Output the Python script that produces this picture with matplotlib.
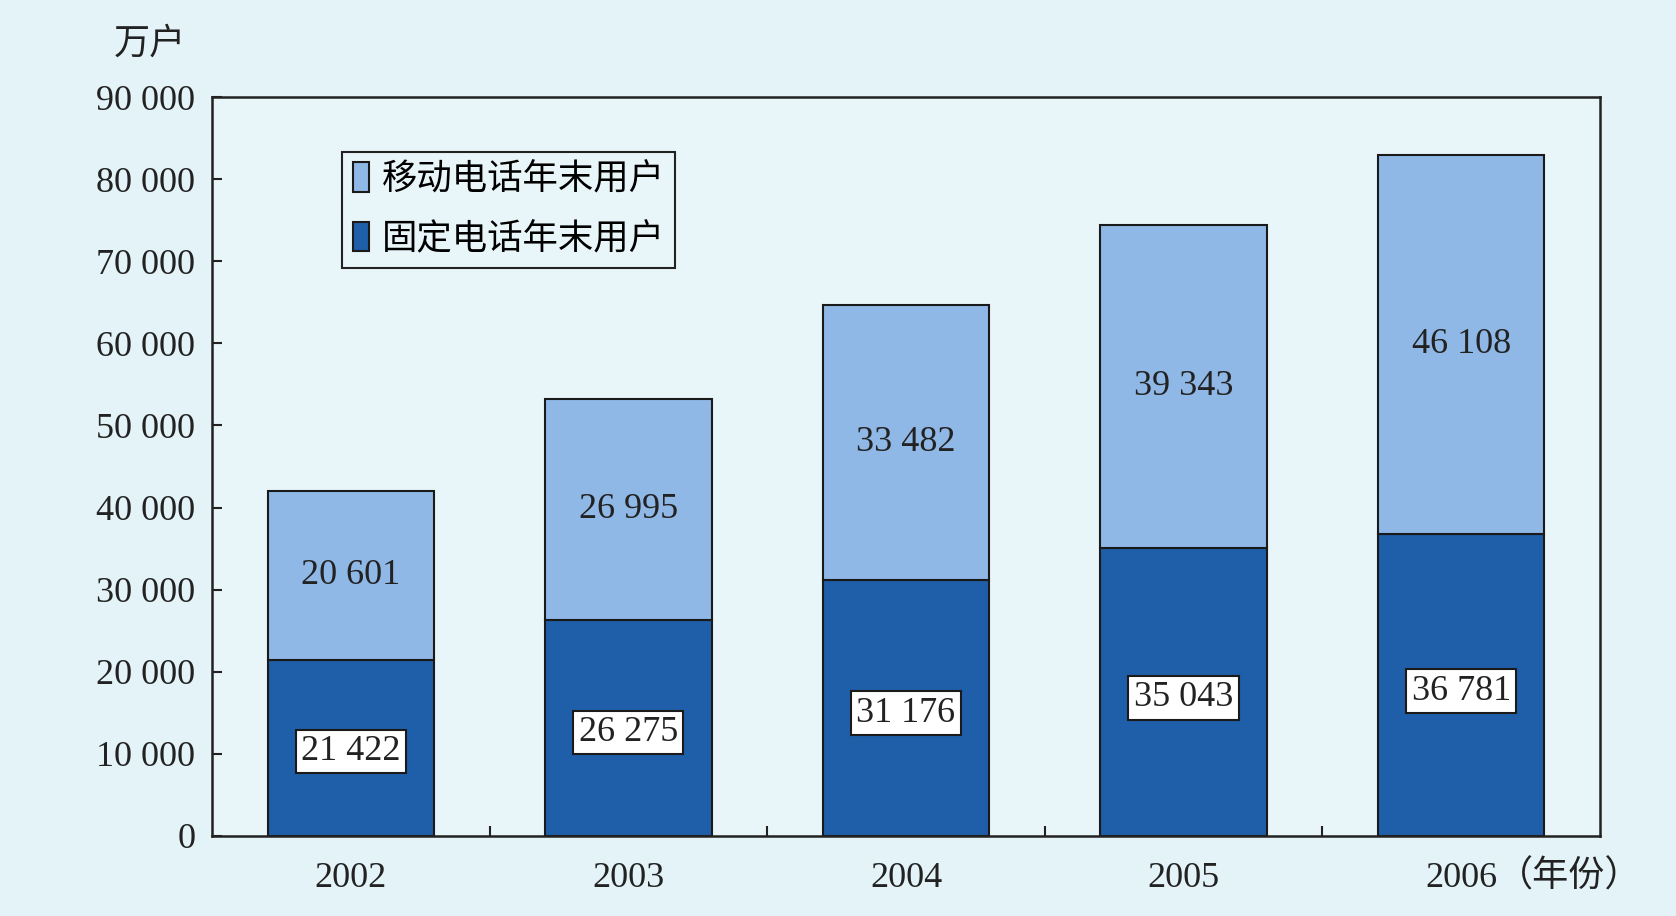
import numpy as np
import matplotlib.pyplot as plt
import matplotlib.transforms as mtransforms

plt.rcParams['font.family'] = ['Liberation Serif', 'Noto Sans CJK SC', 'DejaVu Sans']

# ---------------------------- datos ----------------------------
years = ['2002', '2003', '2004', '2005', '2006']
fixed_users = [21422, 26275, 31176, 35043, 36781]    # 固定电话年末用户
mobile_users = [20601, 26995, 33482, 39343, 46108]   # 移动电话年末用户
yticks = [0, 10000, 20000, 30000, 40000, 50000, 60000, 70000, 80000, 90000]


def fmt(v):
    # separador de miles con espacio, como en el original
    return f'{v:,}'.replace(',', ' ')


bg = '#e3f3f8'
inner = '#e8f5f9'
dark = '#1f5ea8'
light = '#8fb8e6'
ink = '#222222'
fs = 26

fig = plt.figure(figsize=(16.76, 9.16), dpi=100, facecolor=bg)
ax = fig.add_axes([212 / 1676, 1 - 836 / 916, 1388 / 1676, 739 / 916])
ax.set_facecolor(inner)

x = np.arange(len(years))
w = 0.6
b1 = ax.bar(x, fixed_users, w, color=dark, edgecolor='#1a1a1a', linewidth=1.5,
            label='固定电话年末用户')
b2 = ax.bar(x, mobile_users, w, bottom=fixed_users, color=light, edgecolor='#1a1a1a',
            linewidth=1.5, label='移动电话年末用户')

# etiquetas de valores
for i in range(len(years)):
    ax.text(x[i], fixed_users[i] * 0.48, fmt(fixed_users[i]), ha='center', va='center',
            fontsize=fs, color=ink,
            bbox=dict(boxstyle='square,pad=0.15', facecolor='white', edgecolor='#1a1a1a', linewidth=1.5))
    ax.text(x[i], fixed_users[i] + mobile_users[i] / 2, fmt(mobile_users[i]), ha='center',
            va='center', fontsize=fs, color=ink)

ax.set_xlim(-0.5, len(years) - 0.5)
ax.set_ylim(0, 90000)
ax.set_yticks(yticks)
ax.set_yticklabels([fmt(v) for v in yticks], fontsize=fs, color=ink)
ax.set_xticks(x)
ax.set_xticklabels(years, fontsize=fs, color=ink)
ax.set_xticks(x[:-1] + 0.5, minor=True)
ax.tick_params(axis='x', which='major', length=0, pad=19)
ax.tick_params(axis='x', which='minor', direction='in', length=7, width=1.5, color=ink)
ax.tick_params(axis='y', direction='in', length=7, width=1.5, color=ink, pad=12)
for s in ax.spines.values():
    s.set_linewidth(1.8)
    s.set_color(ink)

# unidades
fig.text(150 / 1676, 1 - 45 / 916, '万户', ha='center', va='center', fontsize=fs, color=ink)
trans = mtransforms.blended_transform_factory(ax.transData, ax.transAxes)
ax.text(4.13, -0.0555, '（年份）', transform=trans, ha='left', va='center', fontsize=fs,
        color=ink)

# leyenda
handles = [b2, b1]
labels = ['移动电话年末用户', '固定电话年末用户']
leg = ax.legend(handles, labels, loc='upper left', bbox_to_anchor=(0.094, 0.926),
                fontsize=25.5, fancybox=False, framealpha=1, facecolor=inner,
                edgecolor=ink, handlelength=0.45, handleheight=0.9, handletextpad=0.35,
                borderpad=0.3, labelspacing=0.7, borderaxespad=0)
leg.get_frame().set_linewidth(1.5)

fig.savefig('out.png', dpi=100, facecolor=bg)
